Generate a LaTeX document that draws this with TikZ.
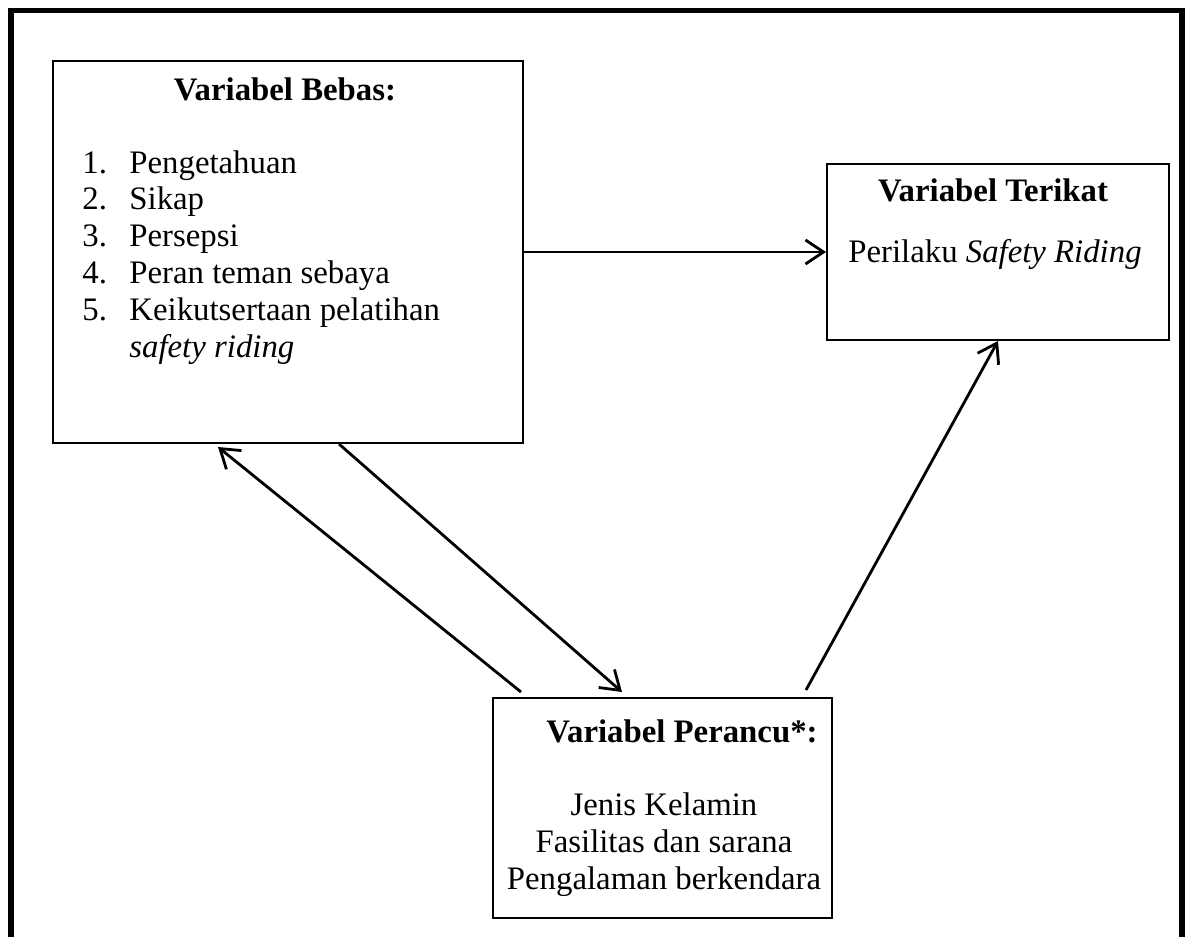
\documentclass[tikz,border=0pt]{standalone}
\usepackage{fontspec}
\setmainfont{Liberation Serif}
\usetikzlibrary{arrows.meta, calc, positioning}

\tikzset{
  kotak/.style={draw, line width=1pt, inner sep=0pt, anchor=north west},
  teks/.style={inner sep=0pt, font=\fontsize{16.4}{18.5}\selectfont},
  panah/.style={-{Straight Barb[length=9pt, width=12pt]}, line width=1.4pt},
}

\begin{document}
\begin{tikzpicture}[x=0.5pt, y=-0.5pt]
  \useasboundingbox (0,0) rectangle (1190,937);
  % bingkai luar
  \draw[line width=2.6pt] (11,950) -- (11,10.5) -- (1182,10.5) -- (1182,950);
  % kotak-kotak
  \node[kotak, minimum width=235pt, minimum height=191pt] (bebas) at (52,60) {};
  \node[kotak, minimum width=171pt, minimum height=88pt] (terikat) at (826,163) {};
  \node[kotak, minimum width=169.5pt, minimum height=110pt] (perancu) at (492,697) {};
  % variabel bebas
  \node[teks, anchor=base] (bebasjudul) at (285,100) {\textbf{Variabel Bebas:}};
  \node[teks, anchor=base west] (n1) at (82,173) {1.};
  \node[teks, anchor=base west] (n2) at (82,209) {2.};
  \node[teks, anchor=base west] (n3) at (82,246) {3.};
  \node[teks, anchor=base west] (n4) at (82,283) {4.};
  \node[teks, anchor=base west] (n5) at (82,320) {5.};
  \node[teks, anchor=base west] (b1) at (129,173) {Pengetahuan};
  \node[teks, anchor=base west] (b2) at (129,209) {Sikap};
  \node[teks, anchor=base west] (b3) at (129,246) {Persepsi};
  \node[teks, anchor=base west] (b4) at (129,283) {Peran teman sebaya};
  \node[teks, anchor=base west] (b5) at (129,320) {Keikutsertaan pelatihan};
  \node[teks, anchor=base west] (b5b) at (129,357) {\textit{safety riding}};
  % variabel terikat
  \node[teks, anchor=base] (terikatjudul) at (993,201) {\textbf{Variabel Terikat}};
  \node[teks, anchor=base] (t1) at (995,262) {Perilaku \textit{Safety Riding}};
  % variabel perancu
  \node[teks, anchor=base] (perancujudul) at (682,742) {\textbf{Variabel Perancu*:}};
  \node[teks, anchor=base] (p1) at (664,815) {Jenis Kelamin};
  \node[teks, anchor=base] (p2) at (664,852) {Fasilitas dan sarana};
  \node[teks, anchor=base] (p3) at (664,889) {Pengalaman berkendara};
  % ujung bebas panah
  \coordinate (a2mulai) at ($(perancu.north west)+(29,-5)$);
  \coordinate (a2ujung) at ($(bebas.south west)+(166,3)$);
  \coordinate (a3mulai) at ($(bebas.south west)+(287,0)$);
  \coordinate (a3ujung) at ($(perancu.north west)+(130,-5)$);
  \coordinate (a4mulai) at ($(perancu.north west)+(314,-7)$);
  % panah
  \draw[panah] (bebas.east) -- (terikat.west);
  \draw[panah] (a2mulai) -- (a2ujung);
  \draw[panah] (a3mulai) -- (a3ujung);
  \draw[panah] (a4mulai) -- (terikat.south);
\end{tikzpicture}
\end{document}
